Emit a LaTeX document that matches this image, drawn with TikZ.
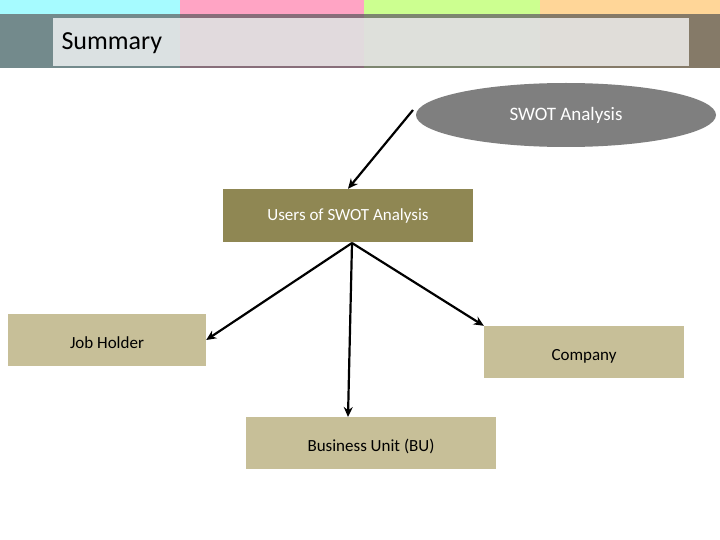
\documentclass[tikz,border=0pt]{standalone}
\usepackage{fontspec}
\setmainfont{Carlito}
\usetikzlibrary{shapes.geometric,arrows.meta}
\definecolor{olive}{HTML}{8F8753}
\definecolor{tan}{HTML}{C7BF98}
\definecolor{c1}{HTML}{A6FBFF}
\definecolor{c2}{HTML}{FFA4C4}
\definecolor{c3}{HTML}{CCFF90}
\definecolor{c4}{HTML}{FFD698}
\definecolor{d1}{HTML}{738A8C}
\definecolor{d2}{HTML}{886E7A}
\definecolor{d3}{HTML}{7D8670}
\definecolor{d4}{HTML}{857A68}
\definecolor{ell}{HTML}{7F7F7F}
\tikzset{
 box/.style={draw=none,fill=tan,minimum width=200pt,minimum height=52pt,inner sep=0pt,font=\fontsize{17}{20}\selectfont},
 lbl/.style={font=\fontsize{17}{20}\selectfont},
 arr/.style={line width=2.2pt,-{Stealth[length=10pt,width=9pt]}}
}
\begin{document}
\begin{tikzpicture}[x=1pt,y=-1pt]
\useasboundingbox (0,0) rectangle (720,540);
\fill[white] (0,0) rectangle (720,540);
\fill[c1] (0,0) rectangle (180,14);
\fill[c2] (180,0) rectangle (364,14);
\fill[c3] (364,0) rectangle (540,14);
\fill[c4] (540,0) rectangle (720,14);
\fill[d1] (0,14) rectangle (180,68);
\fill[d2] (180,14) rectangle (364,68);
\fill[d3] (364,14) rectangle (540,68);
\fill[d4] (540,14) rectangle (720,68);
\fill[white,opacity=0.75] (53,18) rectangle (689,66);
\node[anchor=west,font=\fontsize{26}{30}\selectfont] (title) at (58,43) {Summary};
\node[ellipse,fill=ell,draw=none,minimum width=300pt,minimum height=64pt,text=white,font=\fontsize{19}{22}\selectfont] (swot) at (566,115) {SWOT Analysis};
\node[box,fill=olive,text=white,minimum width=250pt,minimum height=53pt] (users) at (348,215.5) {Users of SWOT Analysis};
\node[box,minimum width=198pt] (job) at (107,340) {};
\node[lbl] (jobt) at (107,343) {Job Holder};
\node[box] (comp) at (584,352) {};
\node[lbl] (compt) at (584,356) {Company};
\node[box,minimum width=250pt] (bu) at (371,443) {};
\node[lbl] (but) at (371,446) {Business Unit (BU)};
\coordinate (s1) at (413,110);
\coordinate (u1) at (352,243);
\coordinate (b1) at (348,417);
\draw[arr] (s1) -- (users.north);
\draw[arr] (u1) -- (job.east);
\draw[arr] (u1) -- (comp.north west);
\draw[arr] (u1) -- (b1);
\end{tikzpicture}
\end{document}
